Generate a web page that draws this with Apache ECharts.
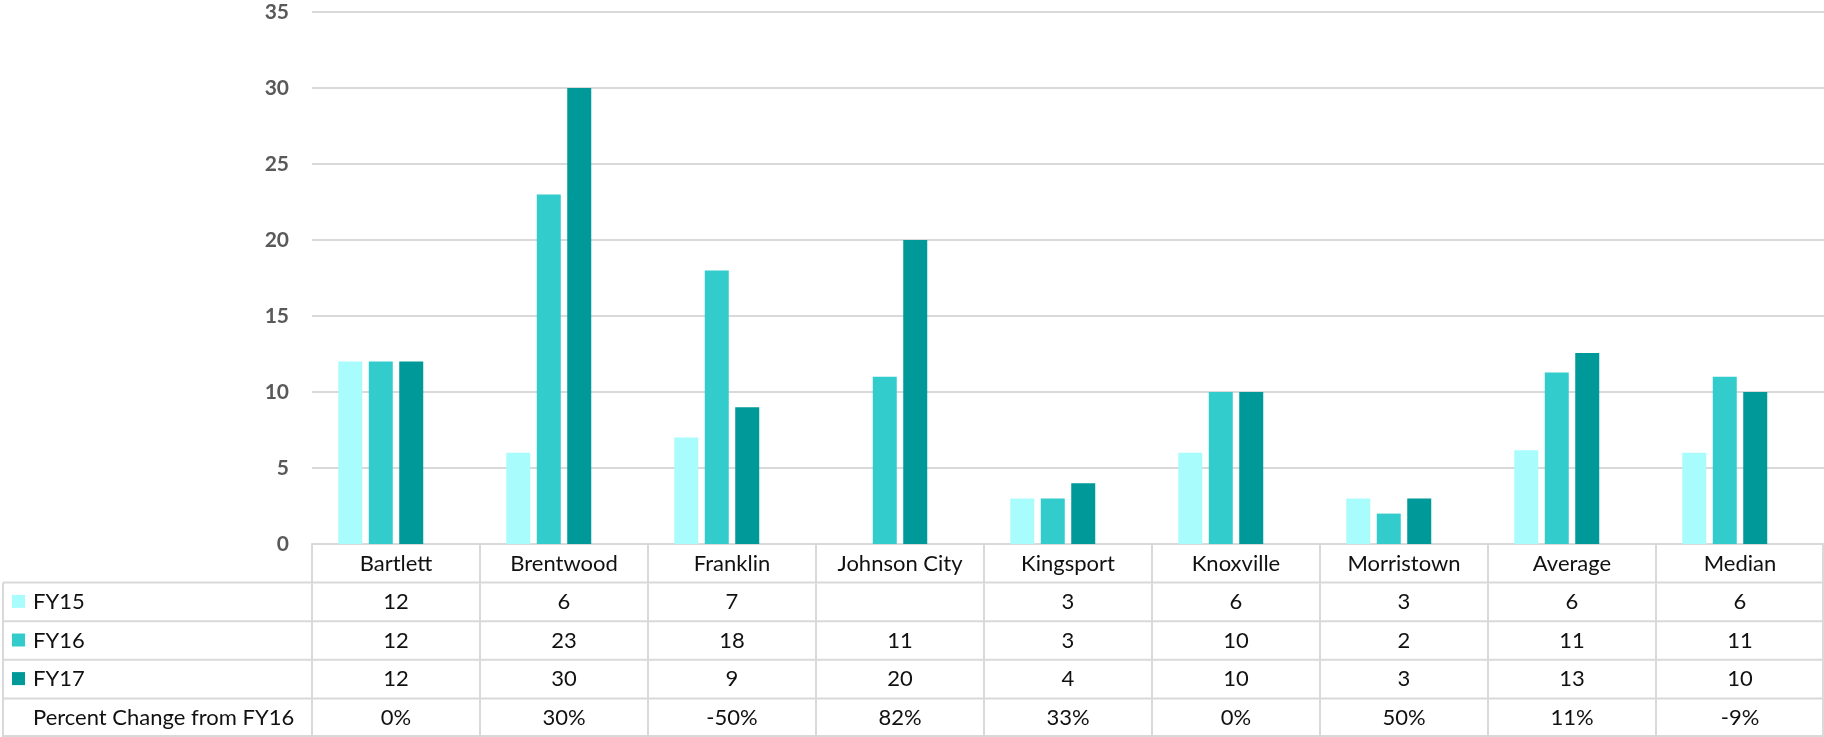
<!DOCTYPE html>
<html>
<head>
<meta charset="utf-8">
<script src="https://cdn.jsdelivr.net/npm/echarts@6/dist/echarts.min.js"></script>
<style>
  html, body { margin: 0; padding: 0; background: #ffffff; }
  #chart { width: 1824px; height: 737px; }
</style>
</head>
<body>
<div id="chart"></div>
<script>
// Incident counts per city and fiscal year, plus the benchmark columns
const categories = ['Bartlett', 'Brentwood', 'Franklin', 'Johnson City', 'Kingsport', 'Knoxville', 'Morristown', 'Average', 'Median'];
const fy15 = [12, 6, 7, null, 3, 6, 3, 6.17, 6];
const fy16 = [12, 23, 18, 11, 3, 10, 2, 11.29, 11];
const fy17 = [12, 30, 9, 20, 4, 10, 3, 12.57, 10];
const pctChange = [0, 0.30, -0.50, 0.82, 0.33, 0, 0.50, 0.11, -0.09];
const yTicks = [0, 5, 10, 15, 20, 25, 30, 35];

const seriesNames = ['FY15', 'FY16', 'FY17'];
const pctName = 'Percent Change from FY16';
const seriesColors = ['#A9FCFC', '#33CCCC', '#009999'];

const FONT = 'Lato';
const LINE = '#D9D9D9';
const TEXT = '#111111';
const CELL_SIZE = 22;

const chart = echarts.init(document.getElementById('chart'), null, { renderer: 'canvas' });

const barBase = { type: 'bar', barWidth: 24, barGap: '27%' };

chart.setOption({
  animation: false,
  grid: { left: 312, right: 0, top: 12, bottom: 193 },
  xAxis: {
    type: 'category',
    data: categories,
    axisLine: { lineStyle: { color: LINE, width: 2 } },
    axisTick: { show: false },
    axisLabel: {
      interval: 0, color: TEXT, fontFamily: FONT, fontSize: CELL_SIZE,
      margin: 19.5, verticalAlign: 'middle'
    }
  },
  yAxis: {
    type: 'value',
    min: yTicks[0],
    max: yTicks[yTicks.length - 1],
    interval: yTicks[1] - yTicks[0],
    axisLine: { show: false },
    axisTick: { show: false },
    axisLabel: { color: '#595959', fontWeight: 'bold', fontFamily: FONT, fontSize: 21, margin: 23 },
    splitLine: { lineStyle: { color: LINE, width: 2 } }
  },
  series: [
    Object.assign({}, barBase, { name: seriesNames[0], data: fy15, itemStyle: { color: seriesColors[0] } }),
    Object.assign({}, barBase, { name: seriesNames[1], data: fy16, itemStyle: { color: seriesColors[1] } }),
    Object.assign({}, barBase, { name: seriesNames[2], data: fy17, itemStyle: { color: seriesColors[2] } }),
    // the percent row has a slot in each group but no visible fill
    Object.assign({}, barBase, { name: pctName, data: pctChange, silent: true, itemStyle: { color: 'rgba(0,0,0,0)' } })
  ]
});

// Data table under the plot, aligned to the category axis
(function buildTable() {
  const W = chart.getWidth();
  const H = chart.getHeight();
  const c0 = chart.convertToPixel({ xAxisIndex: 0 }, categories[0]);
  const c1 = chart.convertToPixel({ xAxisIndex: 0 }, categories[1]);
  const band = c1 - c0;
  const plotLeft = c0 - band / 2;
  const baseY = chart.convertToPixel({ yAxisIndex: 0 }, 0);
  const rowH = (H - baseY) / 5;
  const tableLeft = 3;
  const labelX = 33;

  const els = [];
  const line = (x1, y1, x2, y2) => els.push({
    type: 'line', silent: true,
    shape: { x1, y1, x2, y2 },
    style: { stroke: LINE, lineWidth: 2 }
  });
  const text = (str, x, y, align) => els.push({
    type: 'text', silent: true, x, y,
    style: {
      text: str, fill: TEXT, fontFamily: FONT, fontSize: CELL_SIZE,
      align, verticalAlign: 'middle', textAlign: align, textVerticalAlign: 'middle'
    }
  });

  // horizontal rules
  for (let k = 1; k <= 5; k++) {
    const y = Math.min(baseY + k * rowH, H - 1);
    line(tableLeft, y, W, y);
  }
  // vertical rules
  line(tableLeft, baseY + rowH, tableLeft, H);
  for (let j = 0; j <= categories.length; j++) {
    const x = Math.min(plotLeft + j * band, W - 1);
    line(x, baseY, x, H);
  }

  const rows = [
    { name: seriesNames[0], color: seriesColors[0], values: fy15, fmt: v => v == null ? '' : String(Math.round(v)) },
    { name: seriesNames[1], color: seriesColors[1], values: fy16, fmt: v => v == null ? '' : String(Math.round(v)) },
    { name: seriesNames[2], color: seriesColors[2], values: fy17, fmt: v => v == null ? '' : String(Math.round(v)) },
    { name: pctName, color: null, values: pctChange, fmt: v => Math.round(v * 100) + '%' }
  ];

  rows.forEach((row, r) => {
    const cy = baseY + (r + 1.5) * rowH;
    if (row.color) {
      els.push({
        type: 'rect', silent: true,
        shape: { x: 12, y: cy - 7, width: 13, height: 13 },
        style: { fill: row.color }
      });
    }
    text(row.name, labelX, cy, 'left');
    row.values.forEach((v, i) => {
      const cx = chart.convertToPixel({ xAxisIndex: 0 }, categories[i]);
      text(row.fmt(v), cx, cy, 'center');
    });
  });

  chart.setOption({ graphic: { elements: els } });
})();
</script>
</body>
</html>
